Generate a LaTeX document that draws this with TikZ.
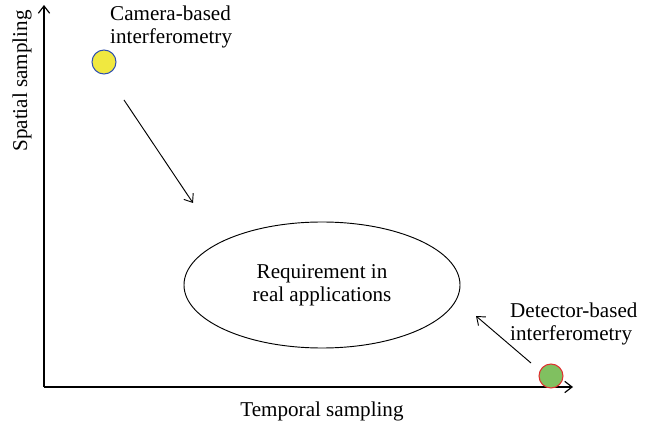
\documentclass[tikz,border=0pt]{standalone}
\usepackage{fontspec}
\setmainfont{Liberation Serif}
\usetikzlibrary{positioning,shapes.geometric,arrows.meta}
\definecolor{dotyellow}{RGB}{240,232,64}
\definecolor{dotblue}{RGB}{48,80,176}
\definecolor{dotgreen}{RGB}{128,192,96}
\definecolor{dotred}{RGB}{224,48,48}
\tikzset{x=0.03cm, y=0.03cm,
  lbl/.style={font=\fontsize{18}{19.6}\selectfont, align=left, inner sep=0pt},
  dot/.style={circle, minimum size=0.72cm, inner sep=0pt, line width=0.9pt},
  barb/.style={-{Straight Barb[length=2.2mm, width=3.4mm]}}}

\begin{document}
\begin{tikzpicture}
\useasboundingbox (0,0) rectangle (651,423);
% axes
\coordinate (o) at (44,36);
\coordinate (ytop) at (44,418);
\coordinate (xend) at (573,36);
\draw[barb, line width=1pt] (o) -- (ytop);
\draw[barb, line width=1pt] (o) -- (xend);
\node (ylab) [lbl, rotate=90] at (22,342) {Spatial sampling};
\node (xlab) [lbl] at (322,12) {Temporal sampling};

% the two techniques
\node (cam) [dot, draw=dotblue, fill=dotyellow] at (104,361) {};
\node (camtxt) [lbl, anchor=west] at (110,396) {Camera-based\\interferometry};
\node (det) [dot, draw=dotred, fill=dotgreen] at (551,47) {};
\node (dettxt) [lbl, anchor=west] at (510,99) {Detector-based\\interferometry};

% what is needed
\node (req) [ellipse, draw, line width=0.8pt, minimum width=8.28cm, minimum height=3.78cm,
  lbl, align=center] at (322,138) {Requirement in\\real applications};

\coordinate (a1) at (124,323);
\coordinate (b1) at (193,220);
\coordinate (a2) at (531,60);
\coordinate (b2) at (476,107);
\draw[barb, line width=0.8pt] (a1) -- (b1);
\draw[barb, line width=0.8pt] (a2) -- (b2);
\end{tikzpicture}
\end{document}
